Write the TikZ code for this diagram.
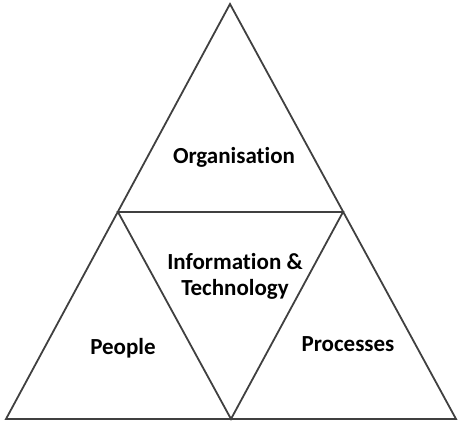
\documentclass[tikz,border=0pt]{standalone}
\usepackage{fontspec}
\setmainfont[Ligatures=NoCommon]{Carlito}
\definecolor{edgegray}{rgb}{0.25, 0.25, 0.25}
\tikzstyle{edgestyle} = [draw=edgegray,
line width=1.8pt,
line join=miter]
\tikzstyle{labelstyle} = [text centered,
font=\bfseries\fontsize{23}{26}\selectfont,
align=center,
inner sep=0pt]

\begin{document}
\begin{tikzpicture}[x=1pt, y=-1pt]
\useasboundingbox (0,0) rectangle (461,426);
\coordinate (apex) at (230,4);
\coordinate (bl) at (6,419);
\coordinate (br) at (456,419);
\coordinate (ml) at (118,212);
\coordinate (mr) at (343,212);
\coordinate (bm) at (231,419);

\node (organisation) [labelstyle] at (234,157) {Organisation};
\node (infotech) [labelstyle] at (235,276) {Information \&\\Technology};
\node (people) [labelstyle] at (123,348) {People};
\node (processes) [labelstyle] at (348,344) {Processes};

\draw [edgestyle] (apex) -- (bl) -- (br) -- cycle;
\draw [edgestyle] (ml) -- (mr) -- (bm) -- cycle;
\end{tikzpicture}
\end{document}
